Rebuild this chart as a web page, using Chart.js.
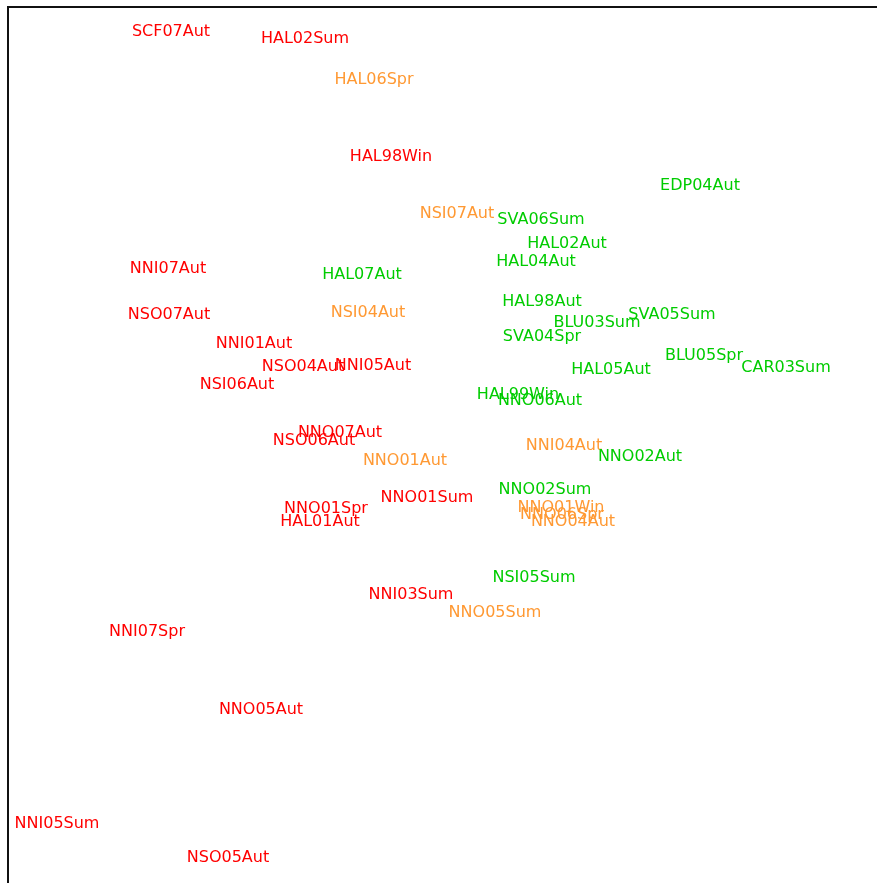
<!DOCTYPE html>
<html>
<head>
<meta charset="utf-8">
<script src="https://cdn.jsdelivr.net/npm/chart.js@4/dist/chart.umd.min.js"></script>
<style>
  html, body { margin: 0; padding: 0; background: #ffffff; overflow: hidden; }
  #wrap { position: relative; width: 877px; height: 883px; }
</style>
</head>
<body>
<div id="wrap"><canvas id="ord"></canvas></div>
<script>
// Ordination sample scores (axis 1, axis 2), grouped by colour class
const redLabels = ['SCF07Aut','HAL02Sum','HAL98Win','NNI07Aut','NSO07Aut','NNI01Aut','NSO04Aut','NNI05Aut','NSI06Aut','NNO07Aut','NSO06Aut','NNO01Sum','NNO01Spr','HAL01Aut','NNI03Sum','NNI07Spr','NNO05Aut','NNI05Sum','NSO05Aut'];
const redX = [-2.71,-1.37,-0.51,-2.74,-2.73,-1.88,-1.39,-0.69,-2.05,-1.02,-1.28,-0.15,-1.16,-1.22,-0.31,-2.95,-1.81,-3.85,-2.14];
const redY = [4.14,4.07,2.89,1.77,1.31,1.02,0.79,0.80,0.61,0.13,0.05,-0.52,-0.63,-0.76,-1.49,-1.86,-2.64,-3.78,-4.12];

const orangeLabels = ['HAL06Spr','NSI07Aut','NSI04Aut','NNO01Aut','NNI04Aut','NNO01Win','NNO06Spr','NNO04Aut','NNO05Sum'];
const orangeX = [-0.68,0.15,-0.74,-0.37,1.22,1.19,1.20,1.31,0.53];
const orangeY = [3.66,2.32,1.33,-0.15,0.00,-0.62,-0.69,-0.76,-1.67];

const greenLabels = ['EDP04Aut','SVA06Sum','HAL02Aut','HAL04Aut','HAL07Aut','HAL98Aut','SVA05Sum','BLU03Sum','SVA04Spr','BLU05Spr','HAL05Aut','CAR03Sum','HAL99Win','NNO06Aut','NNO02Aut','NNO02Sum','NSI05Sum'];
const greenX = [2.58,0.99,1.25,0.94,-0.80,1.00,2.30,1.55,1.00,2.62,1.69,3.44,0.76,0.98,1.98,1.03,0.92];
const greenY = [2.60,2.26,2.02,1.84,1.71,1.44,1.31,1.23,1.09,0.90,0.76,0.78,0.51,0.45,-0.11,-0.44,-1.32];

const axisX = { min: -4.34, max: 4.35 };
const axisY = { min: -4.37, max: 4.39 };

function pts(xs, ys, names) {
  return xs.map((x, i) => ({ x: x, y: ys[i], name: names[i] }));
}

// Draws each sample's name centred on its point
const sampleNames = {
  id: 'sampleNames',
  afterDatasetsDraw(chart) {
    const ctx = chart.ctx;
    ctx.save();
    ctx.font = '16px "DejaVu Sans", sans-serif';
    ctx.textAlign = 'center';
    ctx.textBaseline = 'middle';
    chart.data.datasets.forEach((ds, di) => {
      const meta = chart.getDatasetMeta(di);
      ctx.fillStyle = ds.textColor;
      meta.data.forEach((el, i) => {
        ctx.fillText(ds.data[i].name, el.x, el.y);
      });
    });
    ctx.restore();
  }
};

// Frame: left and top edges of the plotting box
const frame = {
  id: 'frame',
  beforeDatasetsDraw(chart) {
    const a = chart.chartArea;
    const ctx = chart.ctx;
    ctx.save();
    ctx.strokeStyle = '#111111';
    ctx.lineWidth = 2;
    ctx.beginPath();
    ctx.moveTo(a.left, chart.height + 5);
    ctx.lineTo(a.left, a.top);
    ctx.lineTo(chart.width + 5, a.top);
    ctx.stroke();
    ctx.restore();
  }
};

new Chart(document.getElementById('ord'), {
  type: 'scatter',
  data: {
    datasets: [
      { label: 'red', data: pts(redX, redY, redLabels), textColor: '#ff0000', pointRadius: 0 },
      { label: 'orange', data: pts(orangeX, orangeY, orangeLabels), textColor: '#ff9933', pointRadius: 0 },
      { label: 'green', data: pts(greenX, greenY, greenLabels), textColor: '#00cc00', pointRadius: 0 }
    ]
  },
  options: {
    responsive: true,
    maintainAspectRatio: false,
    animation: false,
    layout: { padding: { left: 8, top: 7, right: 0, bottom: 0 } },
    plugins: { legend: { display: false }, tooltip: { enabled: false } },
    scales: {
      x: { type: 'linear', min: axisX.min, max: axisX.max, display: false },
      y: { type: 'linear', min: axisY.min, max: axisY.max, display: false }
    }
  },
  plugins: [frame, sampleNames]
});
</script>
</body>
</html>
